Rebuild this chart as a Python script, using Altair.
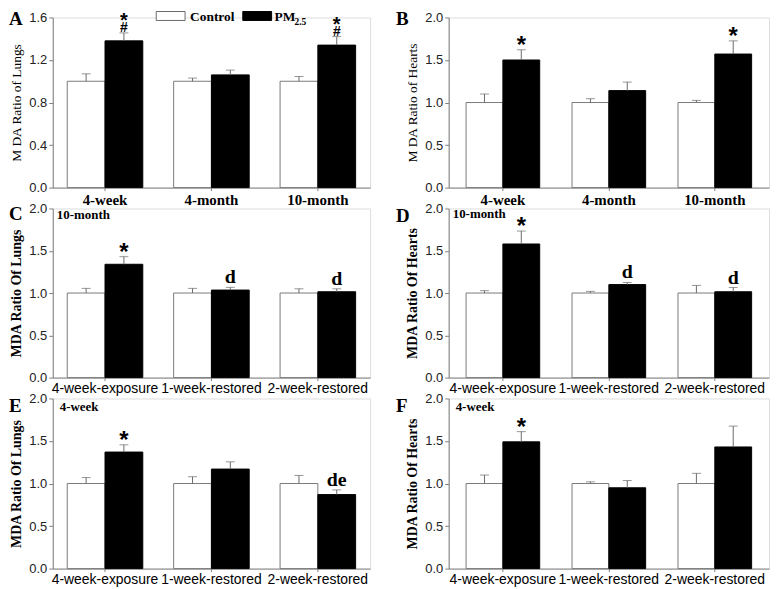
import altair as alt
import pandas as pd

SERIES = ["Control", "PM2.5"]
FILL = ["white", "black"]
EDGE = ["#7a7a7a", "#000000"]

TIME_GROUPS = ["4-week", "4-month", "10-month"]
RESTORE_GROUPS = ["4-week-exposure", "1-week-restored", "2-week-restored"]

LUNG_TICKS_A = [0.0, 0.4, 0.8, 1.2, 1.6]
TICKS_2 = [0.0, 0.5, 1.0, 1.5, 2.0]

# Panel A - lungs, exposure duration
A_ctrl = [1.00, 1.00, 1.00]
A_ctrl_err = [0.07, 0.03, 0.045]
A_pm = [1.38, 1.06, 1.34]
A_pm_err = [0.075, 0.045, 0.08]
A_star = ["*", "", "*"]
A_note = ["#", "", "#"]

# Panel B - hearts, exposure duration
B_ctrl = [1.00, 1.00, 1.00]
B_ctrl_err = [0.10, 0.045, 0.025]
B_pm = [1.50, 1.14, 1.57]
B_pm_err = [0.12, 0.10, 0.155]
B_star = ["*", "", "*"]
B_note = ["", "", ""]

# Panel C - lungs, 10-month, recovery
C_ctrl = [1.00, 1.00, 1.00]
C_ctrl_err = [0.055, 0.055, 0.05]
C_pm = [1.34, 1.035, 1.015]
C_pm_err = [0.09, 0.032, 0.035]
C_star = ["*", "", ""]
C_note = ["", "d", "d"]

# Panel D - hearts, 10-month, recovery
D_ctrl = [1.00, 1.00, 1.00]
D_ctrl_err = [0.028, 0.02, 0.09]
D_pm = [1.58, 1.10, 1.015]
D_pm_err = [0.153, 0.025, 0.05]
D_star = ["*", "", ""]
D_note = ["", "d", "d"]

# Panel E - lungs, 4-week, recovery
E_ctrl = [1.00, 1.00, 1.00]
E_ctrl_err = [0.07, 0.08, 0.095]
E_pm = [1.37, 1.17, 0.87]
E_pm_err = [0.085, 0.085, 0.055]
E_star = ["*", "", ""]
E_note = ["", "", "de"]

# Panel F - hearts, 4-week, recovery
F_ctrl = [1.00, 1.00, 1.00]
F_ctrl_err = [0.10, 0.02, 0.12]
F_pm = [1.49, 0.95, 1.43]
F_pm_err = [0.12, 0.085, 0.245]
F_star = ["*", "", ""]
F_note = ["", "", ""]

LEGEND_TEXT = ["Control", "PM", "2.5"]

SERIF = "Liberation Serif"
SANS = "Liberation Sans"
GREY = "#808080"


def panel(letter, groups, ctrl, ctrl_err, pm, pm_err, star, note, note_kind,
          ylab, ymax, yvals, left, height, time_axis, inner=None, legend=False,
          letter_y=14, inner_xy=(4, 12)):
    rows = []
    for i, g in enumerate(groups):
        rows.append(dict(group=g, series=SERIES[0], mean=ctrl[i], err=ctrl_err[i], star="", note=""))
        rows.append(dict(group=g, series=SERIES[1], mean=pm[i], err=pm_err[i], star=star[i], note=note[i]))
    df = pd.DataFrame(rows)
    df["upper"] = df["mean"] + df["err"]

    width = 319 if left else 322
    pi, po = (0.29, 0.136) if left else (0.305, 0.164)

    if time_axis:
        lab = dict(labelFont=SERIF, labelFontSize=15, labelFontWeight="bold", labelPadding=2)
        ttl = dict(titleFont=SERIF, titleFontSize=13.5, titleFontWeight="normal")
    else:
        lab = dict(labelFont=SANS, labelFontSize=14, labelFontWeight="normal", labelPadding=1)
        ttl = dict(titleFont=SERIF, titleFontSize=14, titleFontWeight="bold")

    xaxis = alt.Axis(title=None, labelAngle=0, domainColor=GREY, tickColor=GREY, tickSize=3,
                     labelColor="black", labelOverlap=False, **lab)
    yaxis = alt.Axis(values=yvals, format=".1f", title=ylab, grid=False, domainColor=GREY,
                     tickColor=GREY, tickSize=4, labelPadding=2, labelFont=SANS, labelFontSize=13,
                     labelColor="#222222", labelFlush=False, labelOverlap=False,
                     titleColor="black", titlePadding=5, **ttl)

    xs = alt.Scale(paddingInner=pi, paddingOuter=po)
    ys = alt.Scale(domain=[0, ymax], nice=False, zero=True)
    x = alt.X("group:N", sort=groups, scale=xs, axis=xaxis)
    xo = alt.XOffset("series:N", sort=SERIES, scale=alt.Scale(domain=SERIES))

    base = alt.Chart(df)
    bars = base.mark_bar(strokeWidth=1).encode(
        x=x, xOffset=xo,
        y=alt.Y("mean:Q", scale=ys, axis=yaxis),
        fill=alt.Fill("series:N", scale=alt.Scale(domain=SERIES, range=FILL), legend=None),
        stroke=alt.Stroke("series:N", scale=alt.Scale(domain=SERIES, range=EDGE), legend=None),
    )
    err = base.mark_rule(color="#6a6a6a", strokeWidth=1).encode(
        x=x, xOffset=xo, y=alt.Y("mean:Q", scale=ys, axis=yaxis), y2="upper:Q")
    cap = base.mark_tick(color="#6a6a6a", orient="horizontal", size=9, thickness=1).encode(
        x=x, xOffset=xo, y=alt.Y("upper:Q", scale=ys, axis=yaxis))

    if note_kind == "hash":
        star_size, star_dy = 20, -6
    else:
        star_size, star_dy = 24, 3
    stars = base.mark_text(font=SANS, fontWeight="bold", fontSize=star_size, baseline="alphabetic",
                           dy=star_dy, color="black").encode(
        x=x, xOffset=xo, y=alt.Y("upper:Q", scale=ys, axis=yaxis), text="star:N")
    if note_kind == "hash":
        notes = base.mark_text(font=SANS, fontWeight="bold", fontSize=14, baseline="alphabetic",
                               dy=-1, color="black").encode(
            x=x, xOffset=xo, y=alt.Y("upper:Q", scale=ys, axis=yaxis), text="note:N")
    else:
        notes = base.mark_text(font=SERIF, fontWeight="bold", fontSize=20, baseline="alphabetic",
                               dy=-4, color="black").encode(
            x=x, xOffset=xo, y=alt.Y("upper:Q", scale=ys, axis=yaxis), text="note:N")

    layers = [bars, err, cap, stars, notes]

    lx = -44 if left else -53
    layers.append(
        alt.Chart(pd.DataFrame({"label": [letter]})).mark_text(
            font=SERIF, fontWeight="bold", fontSize=19, align="left", baseline="alphabetic",
            color="black").encode(x=alt.value(lx), y=alt.value(letter_y), text="label:N"))

    if inner is not None:
        layers.append(
            alt.Chart(pd.DataFrame({"label": [inner]})).mark_text(
                font=SERIF, fontWeight="bold", fontSize=13, align="left", baseline="alphabetic",
                color="black").encode(x=alt.value(inner_xy[0]), y=alt.value(inner_xy[1]), text="label:N"))

    if legend:
        one = pd.DataFrame({"k": [0]})
        layers.append(alt.Chart(one).mark_rect(fill="white", stroke="#6a6a6a", strokeWidth=1).encode(
            x=alt.value(104), x2=alt.value(133), y=alt.value(-6), y2=alt.value(3)))
        layers.append(alt.Chart(one).mark_rect(fill="black", stroke="black", strokeWidth=1).encode(
            x=alt.value(191), x2=alt.value(220), y=alt.value(-6), y2=alt.value(3)))
        layers.append(alt.Chart(pd.DataFrame({"label": [LEGEND_TEXT[0]]})).mark_text(
            font=SERIF, fontWeight="bold", fontSize=13.5, align="left", baseline="alphabetic",
            color="black").encode(x=alt.value(138), y=alt.value(4), text="label:N"))
        layers.append(alt.Chart(pd.DataFrame({"label": [LEGEND_TEXT[1]]})).mark_text(
            font=SERIF, fontWeight="bold", fontSize=13.5, align="left", baseline="alphabetic",
            color="black").encode(x=alt.value(223), y=alt.value(4), text="label:N"))
        layers.append(alt.Chart(pd.DataFrame({"label": [LEGEND_TEXT[2]]})).mark_text(
            font=SERIF, fontWeight="bold", fontSize=9.5, align="left", baseline="alphabetic",
            color="black").encode(x=alt.value(243), y=alt.value(8), text="label:N"))

    return alt.layer(*layers).properties(width=width, height=height)


pA = panel("A", TIME_GROUPS, A_ctrl, A_ctrl_err, A_pm, A_pm_err, A_star, A_note, "hash",
           "M DA Ratio of Lungs", 1.6, LUNG_TICKS_A, True, 171, True, legend=True, letter_y=8)
pB = panel("B", TIME_GROUPS, B_ctrl, B_ctrl_err, B_pm, B_pm_err, B_star, B_note, "none",
           "M DA Ratio of Hearts", 2.0, TICKS_2, False, 171, True, letter_y=8)
pC = panel("C", RESTORE_GROUPS, C_ctrl, C_ctrl_err, C_pm, C_pm_err, C_star, C_note, "letter",
           "MDA Ratio Of Lungs", 2.0, TICKS_2, True, 170, False, inner="10-month",
           letter_y=12, inner_xy=(4, 11))
pD = panel("D", RESTORE_GROUPS, D_ctrl, D_ctrl_err, D_pm, D_pm_err, D_star, D_note, "letter",
           "MDA Ratio Of Hearts", 2.0, TICKS_2, False, 170, False, inner="10-month",
           letter_y=14, inner_xy=(4, 10))
pE = panel("E", RESTORE_GROUPS, E_ctrl, E_ctrl_err, E_pm, E_pm_err, E_star, E_note, "letter",
           "MDA Ratio Of Lungs", 2.0, TICKS_2, True, 171, False, inner="4-week",
           letter_y=14, inner_xy=(7, 13))
pF = panel("F", RESTORE_GROUPS, F_ctrl, F_ctrl_err, F_pm, F_pm_err, F_star, F_note, "letter",
           "MDA Ratio Of Hearts", 2.0, TICKS_2, False, 171, False, inner="4-week",
           letter_y=14, inner_xy=(7, 13))

chart = alt.concat(
    pA, pB, pC, pD, pE, pF, columns=2,
    spacing={"row": 21, "column": 79}, bounds="flush"
).properties(
    padding={"left": 0, "top": 0, "right": 0, "bottom": 0}
).resolve_scale(
    x="independent", y="independent", xOffset="independent"
).configure_view(stroke=None).configure(background="white")

chart.save("out.html", embed_options={"renderer": "svg", "actions": False})
